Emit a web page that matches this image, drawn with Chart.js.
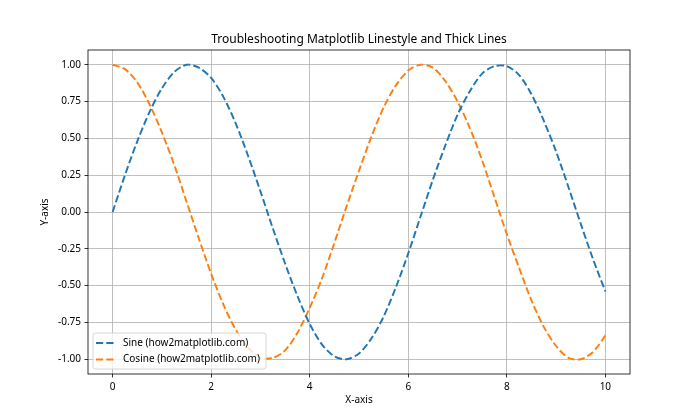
<!DOCTYPE html>
<html lang="en">
<head>
  <meta charset="UTF-8">
  <title>Troubleshooting Matplotlib Linestyle and Thick Lines</title>
  <script src="https://cdn.jsdelivr.net/npm/chart.js"></script>
  <style>
    body { margin: 0; padding: 0; background: #fff; }
    #wrap { width: 700px; height: 420px; }
  </style>
</head>
<body>
  <div id="wrap"><canvas id="chart" width="700" height="420"></canvas></div>

  <script>
    // values, x step 0.25
    const xValues = [0, 0.25, 0.5, 0.75, 1, 1.25, 1.5, 1.75, 2, 2.25, 2.5, 2.75, 3, 3.25, 3.5, 3.75,
      4, 4.25, 4.5, 4.75, 5, 5.25, 5.5, 5.75, 6, 6.25, 6.5, 6.75, 7, 7.25, 7.5, 7.75,
      8, 8.25, 8.5, 8.75, 9, 9.25, 9.5, 9.75, 10];
    const sineValues = [0.00, 0.25, 0.48, 0.68, 0.84, 0.95, 1.00, 0.98, 0.91, 0.78, 0.60, 0.38, 0.14, -0.11, -0.35, -0.57,
      -0.76, -0.90, -0.98, -1.00, -0.96, -0.86, -0.71, -0.51, -0.28, -0.03, 0.22, 0.45, 0.66, 0.82, 0.94, 0.99,
      0.99, 0.93, 0.80, 0.62, 0.41, 0.17, -0.08, -0.32, -0.54];
    const cosineValues = [1.00, 0.97, 0.88, 0.73, 0.54, 0.32, 0.07, -0.18, -0.42, -0.63, -0.80, -0.92, -0.99, -0.99, -0.94, -0.82,
      -0.65, -0.45, -0.21, 0.04, 0.28, 0.51, 0.71, 0.86, 0.96, 1.00, 0.98, 0.89, 0.75, 0.57, 0.35, 0.10,
      -0.15, -0.38, -0.60, -0.78, -0.91, -0.99, -1.00, -0.95, -0.84];
    const xTicks = [0, 2, 4, 6, 8, 10];
    const yTicks = [-1.00, -0.75, -0.50, -0.25, 0.00, 0.25, 0.50, 0.75, 1.00];
    const seriesLabels = ['Sine (how2matplotlib.com)', 'Cosine (how2matplotlib.com)'];

    const FONT = "'Noto Sans', 'Open Sans', sans-serif";
    const colors = ['#1f77b4', '#ff7f0e'];
    const dash = [7.2, 3.1];

    function toPoints(ys) {
      return xValues.map((x, i) => ({ x: x, y: ys[i] }));
    }

    // frame, title, axis labels and legend in matplotlib style
    const decor = {
      id: 'decor',
      afterDraw(chart) {
        const ctx = chart.ctx;
        const a = chart.chartArea;
        ctx.save();
        ctx.strokeStyle = '#000';
        ctx.lineWidth = 0.8;
        ctx.strokeRect(a.left, a.top, a.right - a.left, a.bottom - a.top);

        ctx.fillStyle = '#000';
        ctx.textAlign = 'center';
        ctx.textBaseline = 'middle';
        ctx.font = '12px ' + FONT;
        ctx.fillText('Troubleshooting Matplotlib Linestyle and Thick Lines', (a.left + a.right) / 2, 40);

        ctx.font = '10px ' + FONT;
        ctx.fillText('X-axis', (a.left + a.right) / 2, 400);
        ctx.save();
        ctx.translate(45, (a.top + a.bottom) / 2);
        ctx.rotate(-Math.PI / 2);
        ctx.fillText('Y-axis', 0, 0);
        ctx.restore();

        // legend box
        const lx = a.left + 5, ly = a.bottom - 41, lw = 173, lh = 36;
        ctx.beginPath();
        ctx.roundRect(lx, ly, lw, lh, 2.5);
        ctx.fillStyle = 'rgba(255,255,255,0.8)';
        ctx.fill();
        ctx.strokeStyle = '#cccccc';
        ctx.lineWidth = 0.8;
        ctx.stroke();

        ctx.font = '10px ' + FONT;
        ctx.textAlign = 'left';
        seriesLabels.forEach((label, i) => {
          const y = ly + 10 + i * 16.5;
          ctx.beginPath();
          ctx.setLineDash(dash);
          ctx.strokeStyle = colors[i];
          ctx.lineWidth = 1.94;
          ctx.moveTo(lx + 3, y);
          ctx.lineTo(lx + 22, y);
          ctx.stroke();
          ctx.setLineDash([]);
          ctx.fillStyle = '#000';
          ctx.fillText(label, lx + 30, y);
        });
        ctx.restore();
      }
    };

    new Chart(document.getElementById('chart'), {
      type: 'line',
      data: {
        datasets: [
          {
            label: seriesLabels[0],
            data: toPoints(sineValues),
            borderColor: colors[0],
            borderWidth: 1.94,
            borderDash: dash,
            pointRadius: 0,
            tension: 0.3,
            fill: false
          },
          {
            label: seriesLabels[1],
            data: toPoints(cosineValues),
            borderColor: colors[1],
            borderWidth: 1.94,
            borderDash: dash,
            pointRadius: 0,
            tension: 0.3,
            fill: false
          }
        ]
      },
      options: {
        responsive: false,
        animation: false,
        devicePixelRatio: 1,
        layout: { padding: { top: 50, right: 70, left: 0, bottom: 0 } },
        plugins: {
          legend: { display: false },
          title: { display: false },
          tooltip: { enabled: false }
        },
        scales: {
          x: {
            type: 'linear',
            min: -0.5,
            max: 10.5,
            afterBuildTicks: s => { s.ticks = xTicks.map(v => ({ value: v })); },
            afterFit: s => { s.height = 46; },
            grid: { color: '#b0b0b0', lineWidth: 0.8, tickColor: '#000', tickLength: 3.5 },
            border: { display: false },
            ticks: {
              color: '#000',
              padding: 3.5,
              maxRotation: 0,
              font: { family: FONT, size: 10 },
              callback: v => String(v)
            }
          },
          y: {
            type: 'linear',
            min: -1.1,
            max: 1.1,
            afterBuildTicks: s => { s.ticks = yTicks.map(v => ({ value: v })); },
            afterFit: s => { s.width = 88; },
            grid: { color: '#b0b0b0', lineWidth: 0.8, tickColor: '#000', tickLength: 3.5 },
            border: { display: false },
            ticks: {
              color: '#000',
              padding: 3.5,
              font: { family: FONT, size: 10 },
              callback: v => v.toFixed(2)
            }
          }
        }
      },
      plugins: [decor]
    });
  </script>
</body>
</html>
